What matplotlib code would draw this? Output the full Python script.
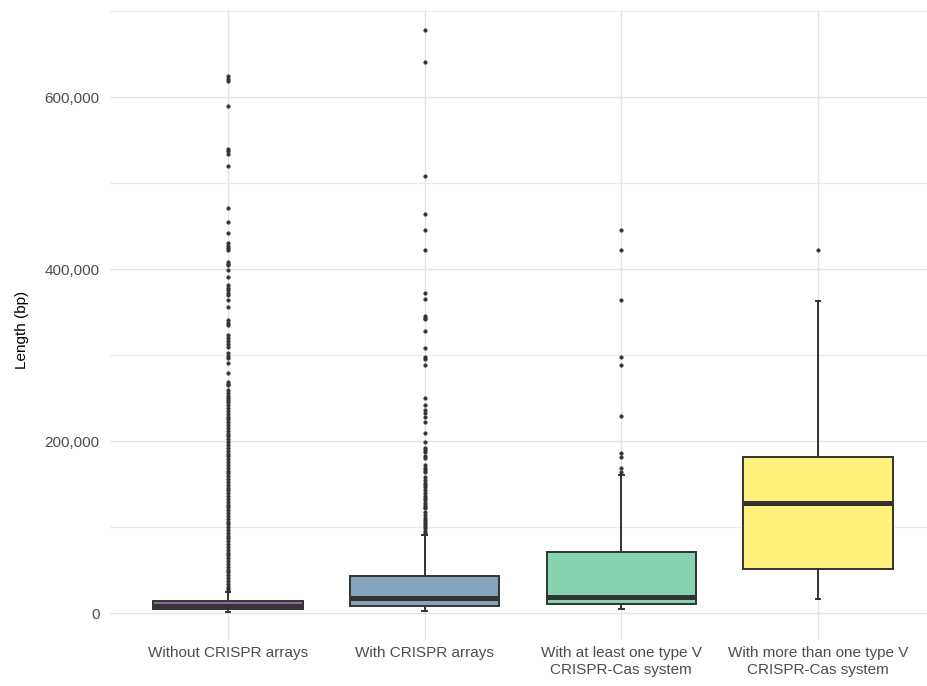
import matplotlib
matplotlib.use("Agg")
import matplotlib.pyplot as plt
import matplotlib.colors as mcolors
from matplotlib.ticker import FuncFormatter, MultipleLocator

plt.rcParams['font.family'] = ['Liberation Sans', 'DejaVu Sans']

categories = ["Without CRISPR arrays", "With CRISPR arrays",
              "With at least one type V\nCRISPR-Cas system",
              "With more than one type V\nCRISPR-Cas system"]
colors = ["#440154", "#31688E", "#35B779", "#FDE725"]

q1 = [4700, 8100, 10100, 51600]
med = [8300, 17100, 19000, 127600]
q3 = [14300, 43000, 71300, 181100]
whislo = [1000, 2500, 5000, 15900]
whishi = [24000, 90700, 160500, 363200]

fliers_1 = [624500, 621800, 618700, 589600, 539600, 537300, 534600, 519900,
            470700, 455100, 441600, 430300, 427000, 424500, 422200, 408600,
            406500, 404700, 398900, 391100, 381500, 378500, 375500, 372500,
            369800, 364000, 356200, 340800, 338000, 334900, 323300, 320000,
            317000, 313500, 309700, 302000, 299000, 296200, 290400, 278800,
            269000, 267000, 265200, 259300, 256000, 253000, 250000, 247700,
            245200, 241900, 238300, 235100, 231600, 228400, 225200, 221700,
            218600, 215300, 211800, 208700, 205400, 201900, 198600, 195500,
            192100, 188800, 185400, 182200, 178700, 175600, 172300, 168900,
            165500, 162400, 159000, 155800, 152500, 149100, 145900, 142600,
            139200, 136100, 132700, 129500, 126200, 122800, 119600, 116300,
            112900, 109800, 106400, 103100, 99900, 96500, 93300, 90000,
            86700, 83500, 80100, 76900, 73600, 70200, 67000, 63700,
            60400, 57100, 53800, 50500, 47200, 43900, 40600, 37400,
            34100, 30800, 27600, 25200]
fliers_2 = [678800, 641600, 509000, 463700, 445100, 422200, 371800, 364800,
            345800, 343500, 341600, 328000, 308500, 298000, 295000, 288400,
            249700, 241900, 236000, 232300, 228000, 222500, 209000, 199200,
            191500, 189500, 187600, 183000, 179900, 172000, 168300, 166000,
            164300, 158000, 154700, 151500, 149000, 146900, 143000, 139200,
            136500, 134000, 131400, 128000, 125600, 123500, 121800, 118000,
            114000, 111000, 108500, 106000, 103500, 101000, 98500, 96000,
            93500]
fliers_3 = [445100, 422200, 364400, 298100, 288400, 229100, 185700, 181100,
            168300, 164000]
fliers_4 = [422200]
fliers = [fliers_1, fliers_2, fliers_3, fliers_4]

y_ticks = [0, 200000, 400000, 600000]

W, H = 928, 686
fig = plt.figure(figsize=(W / 100, H / 100), dpi=100)
left_px, right_px, top_px, bot_px = 110, 936, 10, 640
ax = fig.add_axes([left_px / W, 1 - bot_px / H,
                   (right_px - left_px) / W, (bot_px - top_px) / H])

stats = []
for i in range(4):
    stats.append(dict(med=med[i], q1=q1[i], q3=q3[i], whislo=whislo[i],
                      whishi=whishi[i], fliers=fliers[i], label=categories[i]))

edge = "#333333"
positions = [1, 2, 3, 4]
bp = ax.bxp(stats, positions=positions, widths=0.76, patch_artist=True,
            showcaps=True, capwidths=0.025,
            boxprops=dict(edgecolor=edge, linewidth=1.4),
            whiskerprops=dict(color=edge, linewidth=1.4),
            capprops=dict(color=edge, linewidth=1.4),
            medianprops=dict(color=edge, linewidth=3.6, solid_capstyle='butt'),
            flierprops=dict(marker='o', markersize=2.6, markerfacecolor=edge,
                            markeredgecolor=edge, markeredgewidth=0.3,
                            linestyle='none'))
for patch, c in zip(bp['boxes'], colors):
    r, g, b = mcolors.to_rgb(c)
    a = 0.6
    patch.set_facecolor((r * a + 1 - a, g * a + 1 - a, b * a + 1 - a))
    patch.set_zorder(3)
for k in ('whiskers', 'caps', 'medians', 'fliers'):
    for art in bp[k]:
        art.set_zorder(4)

ax.set_xlim(0.4, 4.6)
ax.set_ylim(-31400, 701600)
ax.set_yticks(y_ticks)
ax.yaxis.set_minor_locator(MultipleLocator(100000))
ax.yaxis.set_major_formatter(FuncFormatter(lambda v, p: f"{int(v):,}"))
ax.set_xticks(positions)
ax.set_xticklabels(categories, fontsize=11, color="#4D4D4D", linespacing=1.3)
ax.tick_params(axis='y', labelsize=11, labelcolor="#4D4D4D", length=0, pad=7.5)
ax.tick_params(axis='x', length=0, pad=4)
ax.tick_params(which='minor', length=0)

ax.grid(True, which='major', color="#E3E3E3", linewidth=1.0, zorder=0)
ax.grid(True, which='minor', axis='y', color="#EBEBEB", linewidth=0.8, zorder=0)
ax.set_axisbelow(True)
for s in ax.spines.values():
    s.set_visible(False)

fig.text(22 / W, 1 - 330 / H, "Length (bp)", rotation=90, fontsize=11,
         ha='center', va='center', color='black')

fig.savefig("out.png", dpi=100, facecolor='white')
